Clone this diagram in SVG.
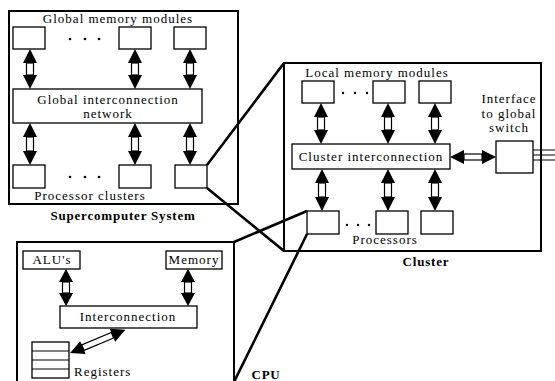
<svg xmlns="http://www.w3.org/2000/svg" width="555" height="381" viewBox="0 0 555 381">
<style>
.frame{fill:none;stroke:#000;stroke-width:2}
.box{fill:#fff;stroke:#000;stroke-width:1.3}
.t{font-family:'Liberation Serif','Times New Roman','DejaVu Serif',serif;font-size:13px;letter-spacing:1px;fill:#000}
.m{text-anchor:middle}
.b{font-weight:bold;letter-spacing:0.8px}
.zoom{stroke:#000;stroke-width:2.6;fill:none}
.dot{fill:#000}
.shaft{fill:#fff;stroke:#000;stroke-width:1.2}
.thin{stroke:#000;stroke-width:1.2;fill:none}
</style>
<defs>
<g id="v40"><polygon points="0,0 7,14 -7,14"/><rect class="shaft" x="-3.5" y="14" width="7" height="12"/><polygon points="0,40 7,26 -7,26"/></g>
<g id="v41"><polygon points="0,0 7,14 -7,14"/><rect class="shaft" x="-3.5" y="14" width="7" height="13"/><polygon points="0,41 7,27 -7,27"/></g>
<g id="v42"><polygon points="0,0 7,14 -7,14"/><rect class="shaft" x="-3.5" y="14" width="7" height="14"/><polygon points="0,42 7,28 -7,28"/></g>
<g id="v37"><polygon points="0,0 7,13 -7,13"/><rect class="shaft" x="-3.5" y="13" width="7" height="11"/><polygon points="0,37 7,24 -7,24"/></g>
<g id="h46"><polygon points="0,0 14,-7 14,7"/><rect class="shaft" x="14" y="-3" width="18" height="6"/><polygon points="46,0 32,-7 32,7"/></g>
<g id="h60"><polygon points="0,0 14,-7 14,7"/><rect class="shaft" x="14" y="-3" width="32" height="6"/><polygon points="60,0 46,-7 46,7"/></g>
</defs>

<g id="supercomputer">
<rect class="frame" x="9" y="11" width="229" height="193"/>
<text class="t m" x="118" y="23">Global memory modules</text>
<text class="t m" x="90" y="200">Processor clusters</text>
<text class="t m b" x="123" y="220">Supercomputer System</text>
</g>
<g id="gmem1"><rect class="box" x="13" y="27" width="32" height="22"/></g>
<g id="gmem-dots"><circle class="dot" cx="70" cy="39" r="1.3"/><circle class="dot" cx="85" cy="39" r="1.3"/><circle class="dot" cx="99" cy="39" r="1.3"/></g>
<g id="gmem2"><rect class="box" x="119" y="27" width="32" height="22"/></g>
<g id="gmem3"><rect class="box" x="174" y="27" width="32" height="22"/></g>
<g id="global-net">
<rect class="box" x="13" y="89" width="189" height="34"/>
<text class="t m" x="108" y="103.5">Global interconnection</text>
<text class="t m" x="108" y="118">network</text>
</g>
<g id="pc1"><rect class="box" x="13" y="165" width="32" height="23"/></g>
<g id="pc-dots"><circle class="dot" cx="70" cy="177" r="1.3"/><circle class="dot" cx="85" cy="177" r="1.3"/><circle class="dot" cx="99" cy="177" r="1.3"/></g>
<g id="pc2"><rect class="box" x="119" y="165" width="32" height="23"/></g>
<g id="pc3"><rect class="box" x="175" y="165" width="32" height="23"/></g>

<g id="cluster">
<rect class="frame" x="284" y="63" width="257" height="188"/>
<text class="t m" x="377" y="77">Local memory modules</text>
<text class="t m" x="385" y="244">Processors</text>
<text class="t m b" x="426" y="266">Cluster</text>
</g>
<g id="lmem1"><rect class="box" x="302" y="81" width="32" height="22"/></g>
<g id="lmem-dots"><circle class="dot" cx="343" cy="93" r="1.2"/><circle class="dot" cx="355" cy="93" r="1.2"/><circle class="dot" cx="367" cy="93" r="1.2"/></g>
<g id="lmem2"><rect class="box" x="373" y="81" width="32" height="22"/></g>
<g id="lmem3"><rect class="box" x="419" y="81" width="32" height="22"/></g>
<g id="cluster-net">
<rect class="box" x="292" y="144" width="158" height="25"/>
<text class="t m" x="371" y="161">Cluster interconnection</text>
</g>
<g id="interface">
<text class="t m" x="509" y="103">Interface</text>
<text class="t m" x="509" y="118">to global</text>
<text class="t m" x="509" y="132">switch</text>
<rect class="box" x="496" y="141" width="37" height="32"/>
</g>
<g id="proc1"><rect class="box" x="307" y="211" width="32" height="23"/></g>
<g id="proc-dots"><circle class="dot" cx="347" cy="225" r="1.2"/><circle class="dot" cx="358" cy="225" r="1.2"/><circle class="dot" cx="369" cy="225" r="1.2"/></g>
<g id="proc2"><rect class="box" x="376" y="211" width="32" height="23"/></g>
<g id="proc3"><rect class="box" x="421" y="211" width="32" height="23"/></g>

<g id="cpu">
<path class="frame" d="M17,392 V242 H234 V392"/>
<text class="t m b" x="266" y="379">CPU</text>
</g>
<g id="alu"><rect class="box" x="23" y="251" width="57" height="18"/><text class="t m" x="52" y="264">ALU's</text></g>
<g id="cpu-mem"><rect class="box" x="166" y="251" width="56" height="18"/><text class="t m" x="194" y="264">Memory</text></g>
<g id="cpu-net"><rect class="box" x="60" y="306" width="137" height="22"/><text class="t m" x="128" y="321">Interconnection</text></g>
<g id="registers">
<rect class="box" x="32" y="342" width="37" height="36"/>
<path class="thin" d="M32,351H69M32,360H69M32,369H69"/>
<text class="t" x="74" y="376">Registers</text>
</g>

<g id="connectors">
<use href="#v40" x="30" y="49"/>
<use href="#v40" x="135" y="49"/>
<use href="#v40" x="190" y="49"/>
<use href="#v42" x="30" y="123"/>
<use href="#v42" x="135" y="123"/>
<use href="#v42" x="190" y="123"/>
<use href="#v41" x="321" y="103"/>
<use href="#v41" x="388" y="103"/>
<use href="#v41" x="435" y="103"/>
<use href="#v42" x="322" y="169"/>
<use href="#v42" x="388" y="169"/>
<use href="#v42" x="435" y="169"/>
<use href="#h46" x="450" y="157"/>
<path class="thin" d="M533,150H555M533,155H555M533,160H555"/>
<use href="#v37" x="66" y="269"/>
<use href="#v37" x="188" y="269"/>
<use href="#h60" transform="translate(70,353) rotate(-22.7)"/>
<path class="zoom" d="M207,165L284,63M207,188L284,251M307,211L234,242M307,234L233,384"/>
</g>
</svg>
